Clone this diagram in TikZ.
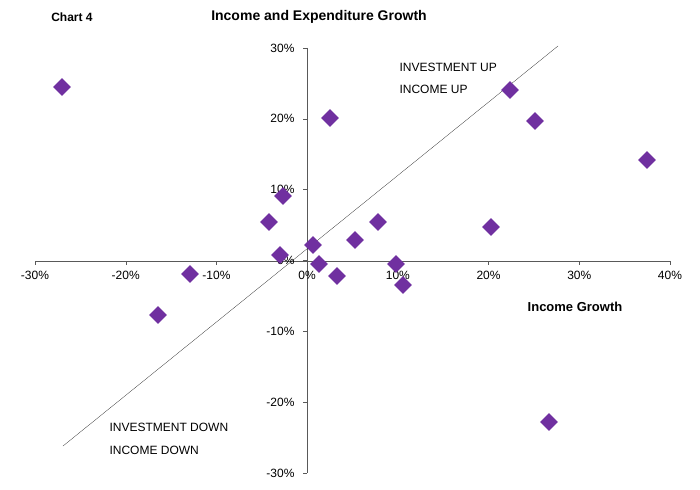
\documentclass[tikz,border=0pt]{standalone}
\usepackage{fontspec}
\setmainfont{Liberation Sans}
\usetikzlibrary{shapes.geometric}
\definecolor{dotpurple}{HTML}{7030A0}
\tikzset{
  pt/.style = {diamond, fill=dotpurple, inner sep=0pt, minimum size=18pt},
  ticklbl/.style = {font=\fontsize{12}{14}\selectfont},
  quadlbl/.style = {font=\fontsize{12}{14}\selectfont, anchor=west},
}
\begin{document}
\begin{tikzpicture}[x=1pt, y=-1pt]
  \useasboundingbox (0,0) rectangle (700,489);

  % axes
  \draw[gray!70!black] (35,261) -- (670,261);
  \draw[gray!70!black] (307,48) -- (307,473);
  \foreach \i in {0,...,7}
    \draw[gray!70!black] (35+90.71*\i,261) -- (35+90.71*\i,265);
  \foreach \i in {0,...,6}
    \draw[gray!70!black] (303,48+70.83*\i) -- (307,48+70.83*\i);

  % tick labels
  \foreach \v [count=\i from 0] in {-30,-20,-10,0,10,20,30,40}
    \node[ticklbl] (xl\i) at (35+90.71*\i,275) {\v\%};
  \foreach \v [count=\i from 0] in {30,20,10,0,-10,-20,-30}
    \node[ticklbl, anchor=east] (yl\i) at (298,48+70.83*\i) {\v\%};

  % diagonal
  \coordinate (dlo) at (63,446);
  \coordinate (dhi) at (558,46);
  \draw[black, very thin] (dlo) -- (dhi);

  % titles
  \node[font=\bfseries\fontsize{12}{14}\selectfont] (chart) at (72,17) {Chart 4};
  \node[font=\bfseries\fontsize{14}{16}\selectfont] (title) at (319,17) {Income and Expenditure Growth};
  \node[font=\bfseries\fontsize{13}{15}\selectfont] (xtitle) at (575,307) {Income Growth};

  % quadrant labels
  \node[quadlbl] (invup) at (396,67) {INVESTMENT UP};
  \node[quadlbl] (incup) at (396,89) {INCOME UP};
  \node[quadlbl] (invdn) at (106,427) {INVESTMENT DOWN};
  \node[quadlbl] (incdn) at (106,450) {INCOME DOWN};

  % data
  \foreach \px/\py [count=\k] in {62/87,190/274,158/315,269/222,283/196,280/255,313/245,319/264,337/276,330/118,355/240,378/222,396/264,403/285,491/227,510/90,535/121,647/160,549/422}
    \node[pt] (d\k) at (\px,\py) {};
\end{tikzpicture}
\end{document}
